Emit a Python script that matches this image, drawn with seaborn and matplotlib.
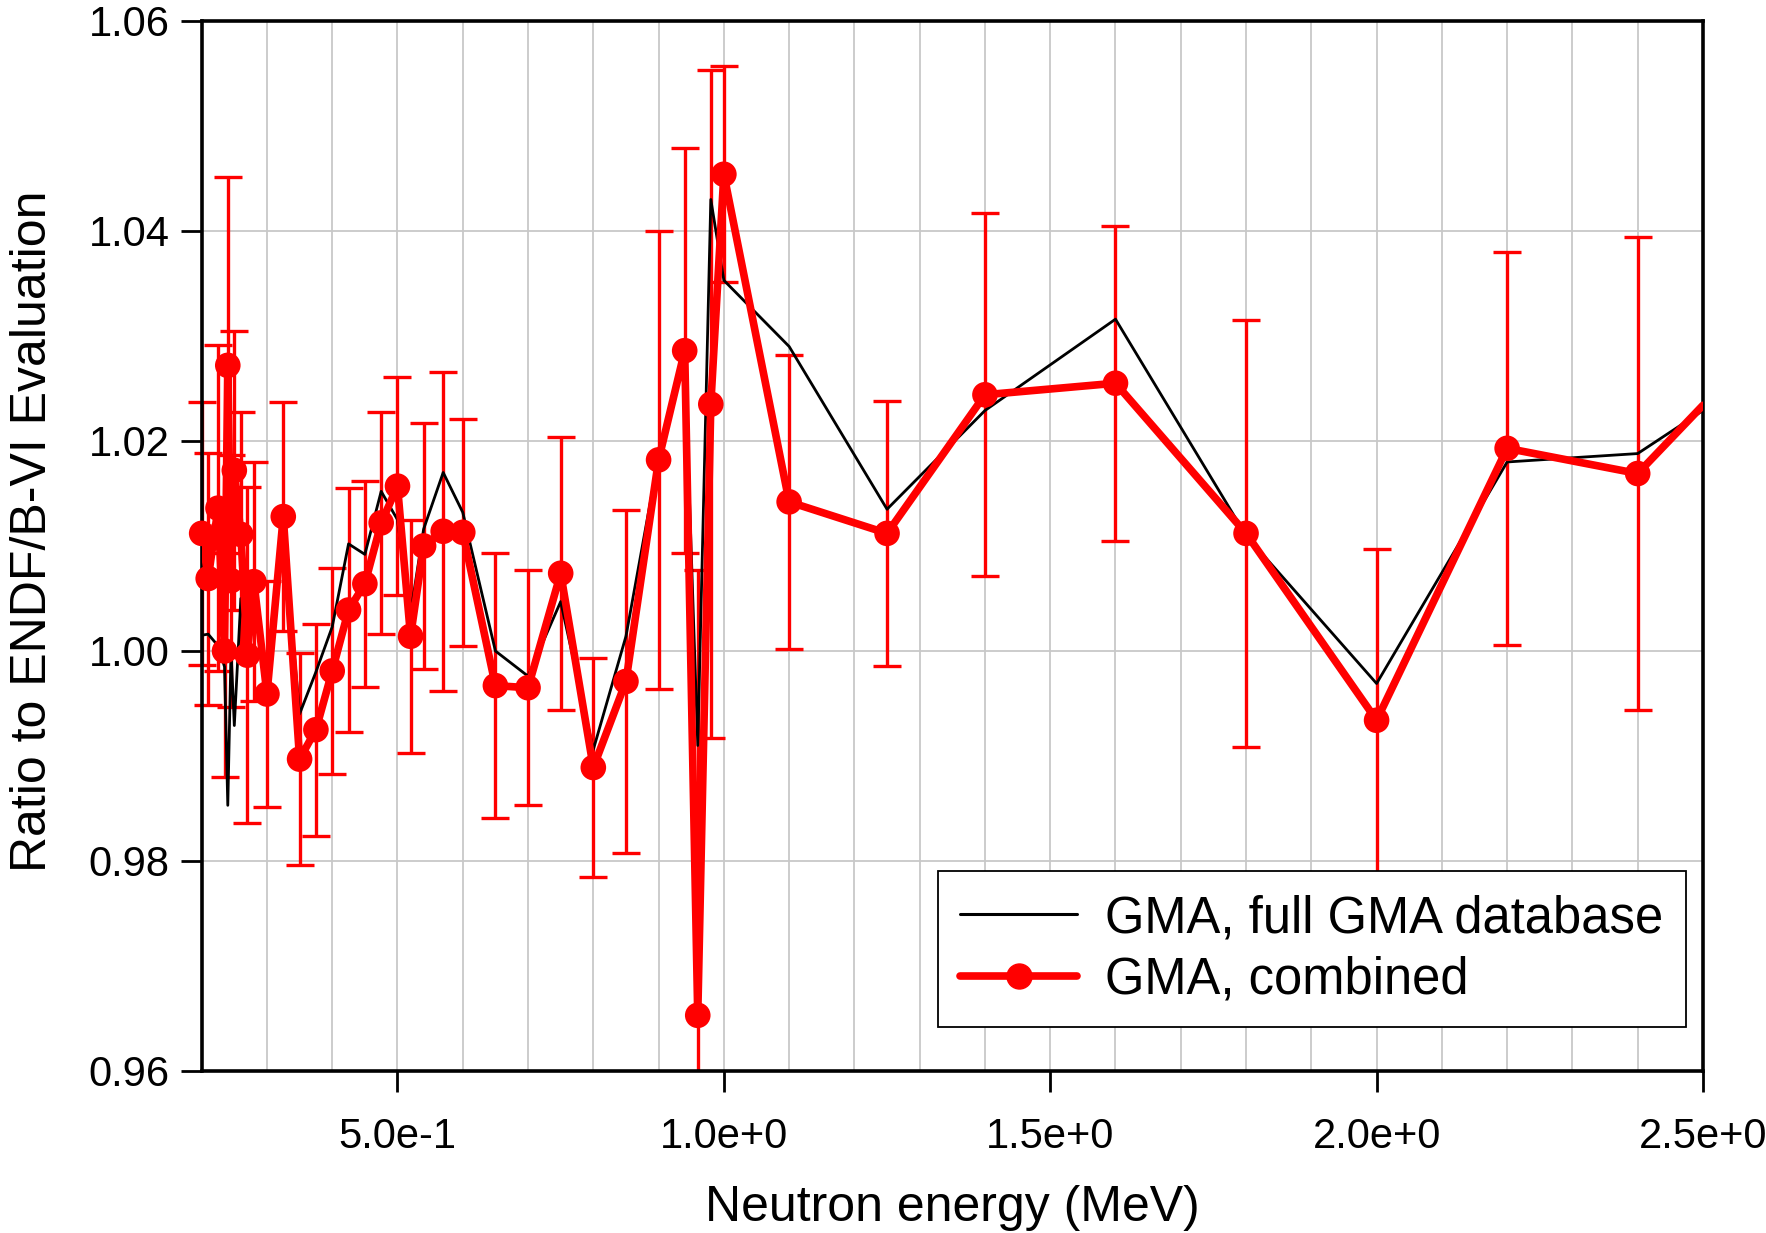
import matplotlib
matplotlib.use("Agg")
import numpy as np
import pandas as pd
import matplotlib.pyplot as plt
import seaborn as sns
from matplotlib.ticker import MultipleLocator, FuncFormatter
from matplotlib.lines import Line2D
from matplotlib.transforms import Bbox, TransformedBbox

# ---- data ----
energy = [0.20, 0.21, 0.225, 0.235, 0.24, 0.245, 0.25, 0.26, 0.27, 0.28,
          0.30, 0.325, 0.35, 0.375, 0.40, 0.425, 0.45, 0.475, 0.50, 0.52,
          0.54, 0.57, 0.60, 0.65, 0.70, 0.75, 0.80, 0.85, 0.90, 0.94,
          0.96, 0.98, 1.00, 1.10, 1.25, 1.40, 1.60, 1.80, 2.00, 2.20,
          2.40, 2.50]
full_db = [1.0015, 1.0016, 1.0005, 0.9985, 0.9853, 1.0000, 0.9929, 1.0050, 1.0000, 1.0050,
           0.9970, 1.0115, 0.9940, 0.9980, 1.0023, 1.0102, 1.0092, 1.0152, 1.0125, 1.0035,
           1.0116, 1.0170, 1.0132, 1.0000, 0.9976, 1.0047, 0.9906, 1.0014, 1.0185, 1.0280,
           0.9910, 1.0430, 1.0353, 1.0290, 1.0135, 1.0229, 1.0316, 1.0110, 0.9969, 1.0180,
           1.0188, 1.0229]
combined = [1.0112, 1.0069, 1.0136, 1.0000, 1.0272, 1.0067, 1.0172, 1.0111, 0.9996, 1.0066,
            0.9959, 1.0128, 0.9897, 0.9925, 0.9981, 1.0039, 1.0064, 1.0122, 1.0157, 1.0014,
            1.0100, 1.0114, 1.0113, 0.9967, 0.9965, 1.0074, 0.9889, 0.9971, 1.0182, 1.0286,
            0.9653, 1.0235, 1.0454, 1.0142, 1.0112, 1.0244, 1.0255, 1.0112, 0.9934, 1.0193,
            1.0169, 1.0234]
combined_err = [0.0125, 0.0120, 0.0155, 0.0120, 0.0179, 0.0120, 0.0133, 0.0117, 0.0160, 0.0114,
                0.0108, 0.0109, 0.0101, 0.0101, 0.0098, 0.0116, 0.0098, 0.0106, 0.0104, 0.0111,
                0.0117, 0.0152, 0.0108, 0.0126, 0.0112, 0.0130, 0.0104, 0.0163, 0.0218, 0.0193,
                0.0424, 0.0318, 0.0103, 0.0140, 0.0126, 0.0173, 0.0150, 0.0203, 0.0163, 0.0187,
                0.0225, np.nan]

x_ticks = [0.5, 1.0, 1.5, 2.0, 2.5]
y_ticks = [0.96, 0.98, 1.00, 1.02, 1.04, 1.06]

df = pd.DataFrame({"energy": energy, "full": full_db,
                   "combined": combined, "err": combined_err})

sns.set_style("ticks")
plt.rcParams["font.family"] = ["Liberation Sans", "DejaVu Sans"]
plt.rcParams["text.color"] = "black"
plt.rcParams["axes.labelcolor"] = "black"

fig = plt.figure(figsize=(17.66, 12.33), dpi=100)
ax = fig.add_axes([0.1142, 0.1314, 0.8501, 0.8516])

ax.set_xlim(0.2, 2.5)
ax.set_ylim(0.96, 1.06)
ax.set_xticks(x_ticks)
ax.set_yticks(y_ticks)
ax.xaxis.set_minor_locator(MultipleLocator(0.1))
ax.grid(which="major", axis="both", color="#c8c8c8", lw=1.3, zorder=0)
ax.grid(which="minor", axis="x", color="#c8c8c8", lw=1.3, zorder=0)
ax.set_axisbelow(True)

# clip box: axes height, but a little wider horizontally
wide_clip = TransformedBbox(Bbox([[-0.05, 0.0], [1.05, 1.0]]), ax.transAxes)

eb = ax.errorbar(df["energy"], df["combined"], yerr=df["err"], fmt="none",
                 ecolor="#ff0000", elinewidth=2.4, capsize=10, capthick=2.4, zorder=2)
for art in list(eb.lines[1]) + list(eb.lines[2]):
    art.set_clip_box(wide_clip)

sns.lineplot(data=df, x="energy", y="full", color="black", lw=2.0,
             estimator=None, sort=False, ax=ax, zorder=3, legend=False)
sns.lineplot(data=df, x="energy", y="combined", color="#ff0000", lw=5.5,
             estimator=None, sort=False, ax=ax, zorder=4, legend=False)
sns.scatterplot(data=df.iloc[:-1], x="energy", y="combined", color="#ff0000",
                s=340, edgecolor="none", ax=ax, zorder=5, legend=False)
for coll in ax.collections:
    coll.set_clip_box(wide_clip)

def fmt(v, pos):
    m, e = f"{v:.1e}".split("e")
    e = int(e)
    return f"{m}e+{e}" if e >= 0 else f"{m}e{e}"
ax.xaxis.set_major_formatter(FuncFormatter(fmt))
ax.yaxis.set_major_formatter(FuncFormatter(lambda v, p: f"{v:.2f}"))
ax.tick_params(axis="both", which="major", direction="out", length=15, width=2,
               labelsize=30, color="black", labelcolor="black")
ax.tick_params(axis="x", which="major", pad=18)
ax.tick_params(axis="y", which="major", pad=8)
ax.tick_params(axis="x", which="minor", length=0)
for s in ax.spines.values():
    s.set_visible(True)
    s.set_color("black")
    s.set_linewidth(2.6)

ax.set_xlabel("Neutron energy (MeV)", fontsize=36, labelpad=20)
ax.set_ylabel("Ratio to ENDF/B-VI Evaluation", fontsize=36)
ax.yaxis.set_label_coords(-0.097, 0.514)

handles = [Line2D([0], [0], color="black", lw=2.2),
           Line2D([0], [0], color="#ff0000", lw=5.5, marker="o", markersize=18)]
leg = ax.legend(handles, ["GMA, full GMA database", "GMA, combined"],
                loc="lower right", bbox_to_anchor=(0.9887, 0.0418), borderaxespad=0,
                fontsize=36.5, frameon=True, fancybox=False, framealpha=1,
                edgecolor="black", handlelength=2.3, borderpad=0.45,
                labelspacing=0.24, handletextpad=0.55)
leg.get_frame().set_linewidth(1.3)
leg.set_zorder(10)

fig.savefig("out.png", dpi=100)
